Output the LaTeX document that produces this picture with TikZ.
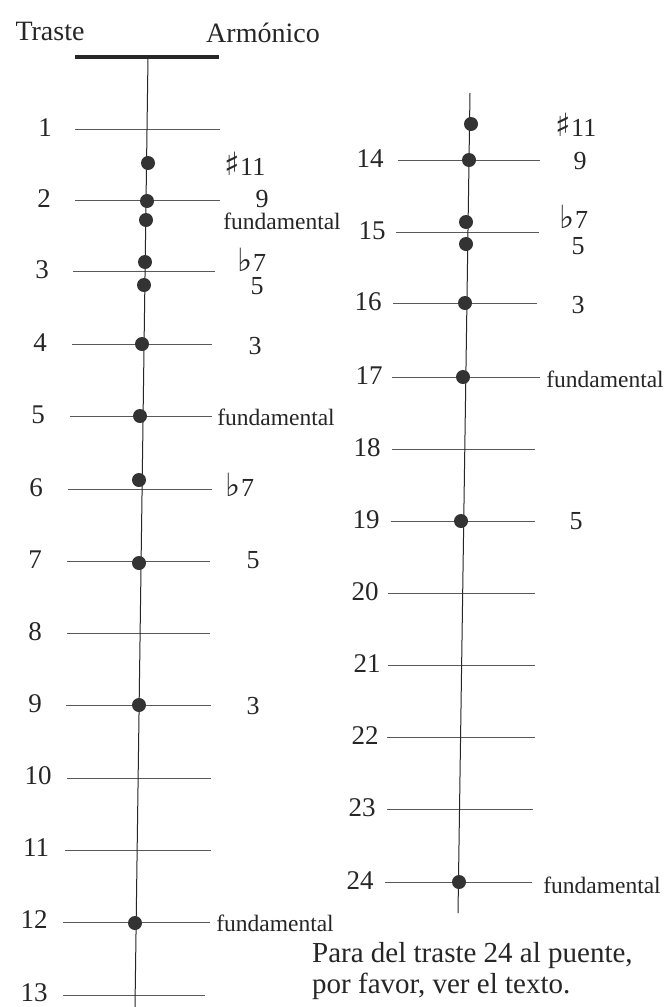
\documentclass[tikz,border=0pt]{standalone}
\usepackage{fontspec}
\setmainfont{Liberation Serif}
\newfontfamily\symf{DejaVu Sans}
\newcommand{\shp}{{\fontsize{32}{32}\selectfont\symf ♯}}
\newcommand{\flt}{{\fontsize{32}{32}\selectfont\symf ♭}}
\begin{document}
\begin{tikzpicture}[x=1pt,y=-1pt,
  fret/.style={draw=black!65, line width=0.9pt},
  strg/.style={draw=black!85, line width=1pt},
  nut/.style={draw=black!85, line width=4pt},
  dot/.style={circle, fill=black!80, inner sep=0pt, minimum size=14pt},
  num/.style={font=\fontsize{27}{27}\selectfont, inner sep=0pt, text=black!85},
  lab/.style={font=\fontsize{26}{26}\selectfont, inner sep=0pt, text=black!85},
  fund/.style={font=\fontsize{23.5}{23.5}\selectfont, inner sep=0pt, text=black!85},
  head/.style={font=\fontsize{28}{28}\selectfont, inner sep=0pt, text=black!85},
  note/.style={font=\fontsize{29}{31}\selectfont, inner sep=0pt, text=black!85, align=left, anchor=north west}]
\useasboundingbox (0,0) rectangle (666,1007);
\fill[white] (0,0) rectangle (666,1007);

% headers
\node[head] (traste) at (50,31) {Traste};
\node[head] (armon) at (263,33) {Armónico};

% nut
\coordinate (nutL) at (75,57);
\coordinate (nutR) at (219,57);
\coordinate (strLtop) at (148,57);
\coordinate (strLbot) at (135,1007);
\draw[nut] (nutL) -- (nutR);

% left frets
\foreach \n/\y/\a/\b/\lx/\ly in {1/129/75/220/45/128, 2/200/75/220/44/199, 3/271/73/215/42/270,
  4/344/72/212/40/343, 5/416/70/212/38/415, 6/489/68/212/36/488, 7/561/67/210/35/560,
  8/633/67/210/35/632, 9/705/66/211/35/704, 10/778/67/211/38/776, 11/850/65/211/36/848,
  12/922/63/210/34/920, 13/995/63/205/34/993}{
  \coordinate (fa\n) at (\a,\y);
  \coordinate (fb\n) at (\b,\y);
  \draw[fret] (fa\n) -- (fb\n);
  \node[num] (fn\n) at (\lx,\ly) {\n};
}
\draw[strg] (strLtop) -- (strLbot);

% right frets
\coordinate (strRtop) at (470,93);
\coordinate (strRbot) at (458,913);
\foreach \n/\y/\a/\b/\lx in {14/160/398/540/370, 15/232/396/539/372, 16/303/393/537/368,
  17/377/392/540/369, 18/449/392/535/367, 19/521/391/535/366, 20/593/388/535/365,
  21/665/388/535/367, 22/737/387/535/365, 23/809/387/533/362, 24/882/385/532/360}{
  \coordinate (fa\n) at (\a,\y);
  \coordinate (fb\n) at (\b,\y);
  \draw[fret] (fa\n) -- (fb\n);
  \node[num] (fn\n) at (\lx,\y-1) {\n};
}
\draw[strg] (strRtop) -- (strRbot);

% left dots and labels
\node[dot] (d1) at (148,163) {};
\node[lab] (l1) at (245,164) {\shp11};
\node[dot] (d2) at (147,201) {};
\node[lab] (l2) at (262,199) {9};
\node[dot] (d3) at (146,220) {};
\node[fund] (l3) at (282,221) {fundamental};
\node[dot] (d4) at (145,262) {};
\node[lab] (l4) at (252,260) {\flt7};
\node[dot] (d5) at (144,285) {};
\node[lab] (l5) at (257,286) {5};
\node[dot] (d6) at (142,344) {};
\node[lab] (l6) at (255,346) {3};
\node[dot] (d7) at (140,416) {};
\node[fund] (l7) at (276,417) {fundamental};
\node[dot] (d8) at (139,480) {};
\node[lab] (l8) at (240,485) {\flt7};
\node[dot] (d9) at (139,563) {};
\node[lab] (l9) at (253,560) {5};
\node[dot] (d10) at (139,705) {};
\node[lab] (l10) at (253,706) {3};
\node[dot] (d11) at (135,923) {};
\node[fund] (l11) at (275,923) {fundamental};

% right dots and labels
\node[dot] (e1) at (471,124) {};
\node[lab] (m1) at (576,125) {\shp11};
\node[dot] (e2) at (469,160) {};
\node[lab] (m2) at (580,161) {9};
\node[dot] (e3) at (466,222) {};
\node[lab] (m3) at (574,217) {\flt7};
\node[dot] (e4) at (466,244) {};
\node[lab] (m4) at (578,246) {5};
\node[dot] (e5) at (465,303) {};
\node[lab] (m5) at (578,305) {3};
\node[dot] (e6) at (463,377) {};
\node[fund] (m6) at (605,379) {fundamental};
\node[dot] (e7) at (461,521) {};
\node[lab] (m7) at (576,521) {5};
\node[dot] (e8) at (459,882) {};
\node[fund] (m8) at (602,885) {fundamental};

% note
\node[note] (txt) at (312,942) {Para del traste 24 al puente,\\por favor, ver el texto.};
\end{tikzpicture}
\end{document}
